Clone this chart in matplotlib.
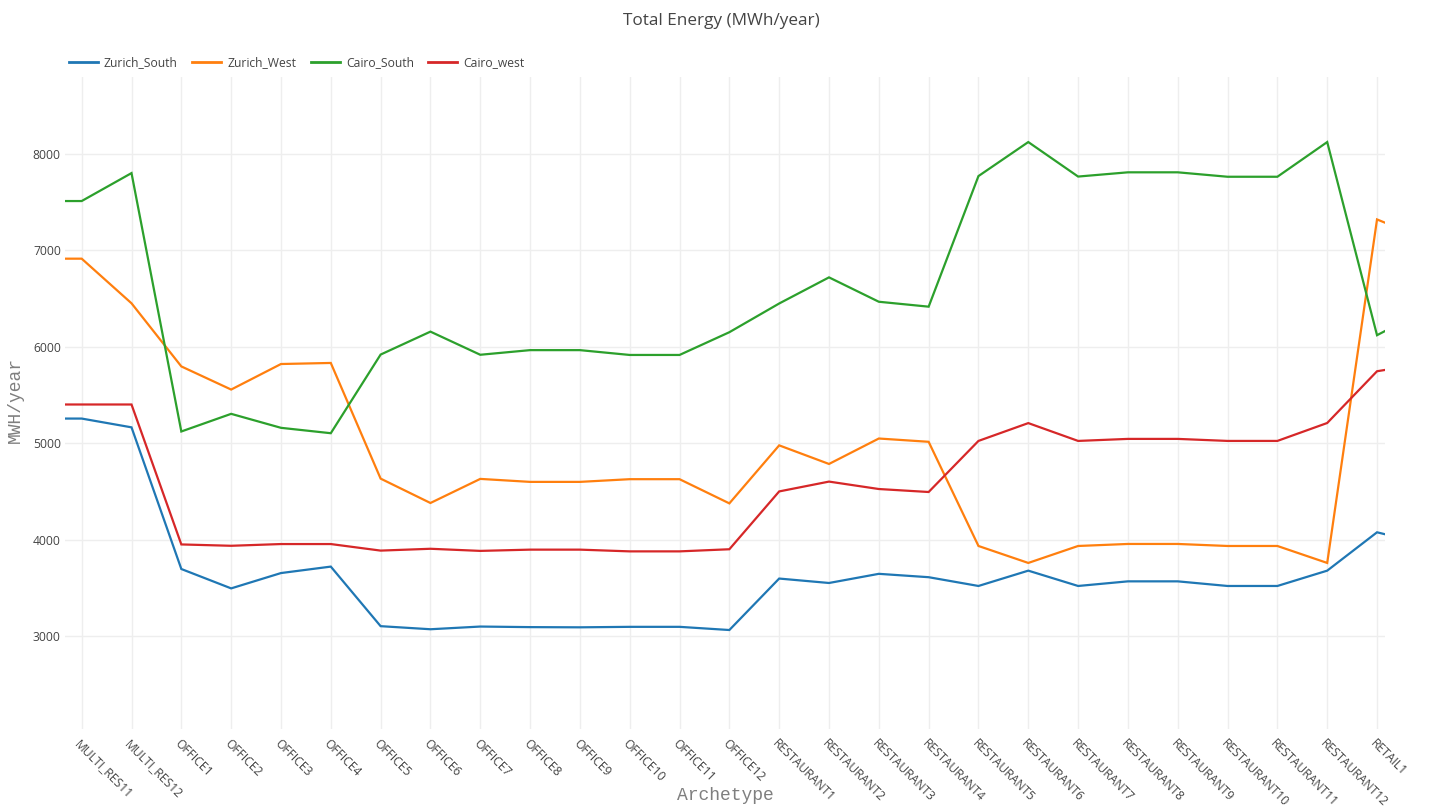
import matplotlib
matplotlib.use("Agg")
import matplotlib.pyplot as plt

categories = (["MULTI_RES10", "MULTI_RES11", "MULTI_RES12"]
              + [f"OFFICE{i}" for i in range(1, 13)]
              + [f"RESTAURANT{i}" for i in range(1, 13)]
              + ["RETAIL1", "RETAIL2"])

zurich_south = [5256, 5256, 5165, 3695, 3494, 3653, 3720, 3102, 3070, 3098, 3092, 3090,
                3095, 3095, 3062, 3596, 3550, 3645, 3610, 3519, 3678, 3519, 3567, 3567,
                3519, 3519, 3678, 4076, 3950]
zurich_west = [6915, 6915, 6452, 5797, 5557, 5822, 5833, 4633, 4380, 4630, 4599, 4599,
               4627, 4627, 4376, 4978, 4785, 5049, 5015, 3934, 3758, 3934, 3955, 3955,
               3934, 3934, 3758, 7322, 7112]
cairo_south = [7513, 7513, 7803, 5122, 5305, 5160, 5104, 5920, 6158, 5918, 5966, 5966,
               5916, 5916, 6152, 6450, 6721, 6468, 6417, 7772, 8125, 7767, 7811, 7811,
               7765, 7765, 8125, 6121, 6390]
cairo_west = [5402, 5402, 5402, 3950, 3936, 3954, 3954, 3886, 3905, 3883, 3896, 3896,
              3878, 3878, 3900, 4500, 4602, 4525, 4494, 5024, 5209, 5024, 5045, 5045,
              5024, 5024, 5210, 5747, 5831]

series_names = ["Zurich_South", "Zurich_West", "Cairo_South", "Cairo_west"]
series_values = [zurich_south, zurich_west, cairo_south, cairo_west]
colors = ["#1f77b4", "#ff7f0e", "#2ca02c", "#d62728"]
yticks = [3000, 4000, 5000, 6000, 7000, 8000]

fig = plt.figure(figsize=(14.42, 8.09), dpi=100)
ax = fig.add_axes([65 / 1442, 80 / 809, 1320 / 1442, 652 / 809])

for name, vals, c in zip(series_names, series_values, colors):
    ax.plot(categories, vals, color=c, lw=1.6, label=name, solid_joinstyle="miter")

ax.set_xlim(0.665, 27.16)
ax.set_ylim(2035, 8800)
ax.set_yticks(yticks)
ax.set_yticklabels([str(v) for v in yticks], fontfamily="Open Sans", fontsize=8.7, color="#444444")
ax.grid(True, color="#eeeeee", lw=1)
ax.set_axisbelow(True)
for s in ax.spines.values():
    s.set_visible(False)
ax.tick_params(axis="both", length=0)
ax.tick_params(axis="y", pad=3)
ax.tick_params(axis="x", pad=6)
for lbl in ax.get_xticklabels():
    lbl.set_rotation(-45)
    lbl.set_ha("left")
    lbl.set_va("top")
    lbl.set_rotation_mode("anchor")
    lbl.set_fontfamily("Open Sans")
    lbl.set_fontsize(8.7)
    lbl.set_color("#444444")

fig.text(0.5, 1 - 21 / 809, "Total Energy (MWh/year)", ha="center", va="center",
         fontfamily="Open Sans", fontsize=12.3, color="#444444")
fig.text(725 / 1442, 1 - 796 / 809, "Archetype", ha="center", va="center",
         fontfamily="Liberation Mono", fontsize=13, color="#7f7f7f")
fig.text(15 / 1442, 1 - 400 / 809, "MWH/year", ha="center", va="center", rotation=90,
         fontfamily="Liberation Mono", fontsize=13, color="#7f7f7f")

leg = fig.legend(loc="center left", bbox_to_anchor=(58 / 1442, 1 - 63 / 809), ncol=4,
                 frameon=False, prop={"family": "Open Sans", "size": 8.7},
                 handlelength=2.4, handletextpad=0.5, columnspacing=1.2,
                 labelcolor="#444444")
for line in leg.get_lines():
    line.set_linewidth(2)

fig.savefig("out.png", dpi=100, facecolor="white")
